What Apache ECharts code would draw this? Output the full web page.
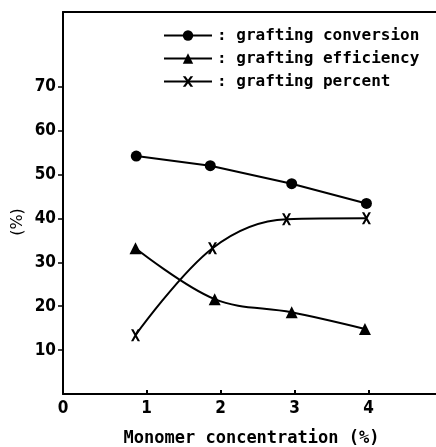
<!DOCTYPE html>
<html>
<head>
<meta charset="utf-8">
<script src="https://cdn.jsdelivr.net/npm/echarts@6/dist/echarts.min.js"></script>
<style>
  html, body { margin: 0; padding: 0; background: #fff; }
  #chart { width: 436px; height: 447px; }
</style>
</head>
<body>
<div id="chart"></div>
<script>
// monomer concentration (%) as plotted
const convX = [0.86, 1.86, 2.96, 3.97]
const convY = [54.2, 52.0, 47.9, 43.4]
const effX = [0.85, 1.92, 2.96, 3.95]
const effY = [33.2, 21.6, 18.6, 14.8]
const pctX = [0.85, 1.89, 2.89, 3.97]
const pctY = [13.4, 33.2, 39.8, 40.0]
const xTicks = [1, 2, 3, 4]
const yTicks = [10, 20, 30, 40, 50, 60, 70]
const names = ['grafting conversion', 'grafting efficiency', 'grafting percent']

const X_MIN = -0.13
const crossMark = 'path://M0,0L2.6,0L10,12L7.4,12ZM7.4,0L10,0L2.6,12L0,12Z'

function pairs(xs, ys) {
  return xs.map((x, i) => [x, ys[i]])
}

const chart = echarts.init(document.getElementById('chart'), null, { renderer: 'canvas' })

const tickFont = {
  color: '#000',
  fontFamily: '"Liberation Sans Narrow", "DejaVu Sans Condensed", sans-serif',
  fontWeight: 'bold',
  fontSize: 17
}

const option = {
  animation: false,
  backgroundColor: '#fff',
  grid: { left: 63, right: 0, top: 12, bottom: 53, outerBoundsMode: 'none' },
  legend: {
    orient: 'vertical',
    left: 158,
    top: 22,
    itemWidth: 48,
    itemHeight: 13,
    itemGap: 6,
    formatter: name => ': ' + name,
    textStyle: {
      color: '#000',
      fontFamily: '"DejaVu Sans Mono", monospace',
      fontWeight: 'bold',
      fontSize: 16,
      lineHeight: 17
    },
    data: names
  },
  xAxis: [
    {
      type: 'value',
      min: X_MIN,
      max: 4.91,
      splitLine: { show: false },
      axisLine: { show: true, lineStyle: { color: '#000', width: 2 } },
      axisTick: {
        show: true,
        inside: true,
        length: 4,
        lineStyle: { color: '#000', width: 2 },
        customValues: xTicks
      },
      axisLabel: {
        ...tickFont,
        margin: 6,
        customValues: [X_MIN].concat(xTicks),
        formatter: v => (v < 0.5 ? '0' : String(Math.round(v)))
      },
      name: 'Monomer concentration (%)',
      nameLocation: 'middle',
      nameGap: 36,
      nameTextStyle: {
        color: '#000',
        fontFamily: '"DejaVu Sans Mono", monospace',
        fontWeight: 'bold',
        fontSize: 17,
        padding: [0, 0, 0, 4]
      }
    },
    {
      // top frame line
      type: 'value',
      position: 'top',
      min: X_MIN,
      max: 4.91,
      splitLine: { show: false },
      axisLine: { show: true, lineStyle: { color: '#000', width: 2 } },
      axisTick: { show: false },
      axisLabel: { show: false }
    }
  ],
  yAxis: {
    type: 'value',
    min: 0,
    max: 87,
    splitLine: { show: false },
    axisLine: { show: true, onZero: false, lineStyle: { color: '#000', width: 2 } },
    axisTick: {
      show: true,
      length: 5,
      lineStyle: { color: '#000', width: 1.5 },
      customValues: yTicks
    },
    axisLabel: {
      ...tickFont,
      margin: 7,
      customValues: yTicks
    }
  },
  graphic: [
    {
      type: 'text',
      x: 18,
      y: 222,
      rotation: Math.PI / 2,
      style: {
        text: '(%)',
        fill: '#000',
        font: '16px "DejaVu Sans", sans-serif',
        align: 'center',
        verticalAlign: 'middle'
      }
    }
  ],
  series: [
    {
      name: names[0],
      type: 'line',
      data: pairs(convX, convY),
      symbol: 'circle',
      symbolSize: 11,
      itemStyle: { color: '#000' },
      lineStyle: { color: '#000', width: 2 }
    },
    {
      name: names[1],
      type: 'line',
      data: pairs(effX, effY),
      smooth: 0.35,
      symbol: 'triangle',
      symbolSize: 12,
      itemStyle: { color: '#000' },
      lineStyle: { color: '#000', width: 2 }
    },
    {
      name: names[2],
      type: 'line',
      data: pairs(pctX, pctY),
      smooth: 0.35,
      symbol: crossMark,
      symbolSize: [9, 12],
      itemStyle: { color: '#000' },
      lineStyle: { color: '#000', width: 2 }
    }
  ]
}

chart.setOption(option)
</script>
</body>
</html>
